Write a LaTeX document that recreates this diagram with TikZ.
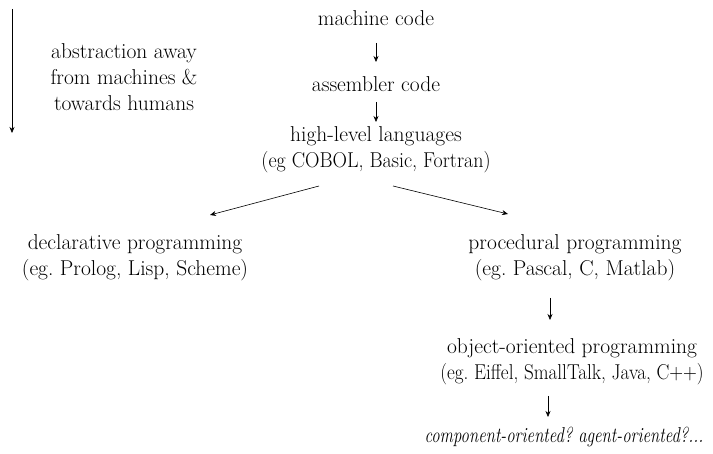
\documentclass[tikz,border=0pt]{standalone}
\usetikzlibrary{arrows.meta}
\begin{document}
\frenchspacing
\begin{tikzpicture}[x=1pt,y=-1pt,
  txt/.style={align=center,inner sep=0pt,font=\fontsize{21.5}{26}\selectfont},
  link/.style={-{Stealth[length=6pt,width=5pt]},line width=0.6pt}]
\useasboundingbox (0,0) rectangle (713,454);

% side note on the direction of abstraction
\coordinate (top) at (12,9);
\coordinate (bot) at (12,133);
\draw[link] (top) -- (bot);
\node[txt] (note) at (124,77) {abstraction away\\from machines \&\\towards humans};

% the lineage of programming paradigms
\node[txt] (mc) at (376,18) {machine code};
\node[txt] (ac) at (376,84) {assembler code};
\node[txt] (hl) at (376,150) {high-level languages\\\scalebox{0.93}[1]{(eg COBOL, Basic, Fortran)}};
\node[txt] (dp) at (135,258) {declarative programming\\(eg. Prolog, Lisp, Scheme)};
\node[txt] (pp) at (575,258) {procedural programming\\(eg. Pascal, C, Matlab)};
\node[txt] (oo) at (572,362) {object-oriented programming\\\scalebox{0.89}[1]{(eg. Eiffel, SmallTalk, Java, C++)}};
\node[txt] (fu) at (564,437) {\scalebox{0.78}[1]{\itshape component-oriented? agent-oriented?...}};

\draw[link] ([yshift=-25pt]mc.center) -- ([yshift=22pt]ac.center);
\draw[link] ([yshift=-18pt]ac.center) -- ([yshift=28pt]hl.center);
\draw[link] ([xshift=-57pt,yshift=-36pt]hl.center) -- ([xshift=75pt,yshift=43pt]dp.center);
\draw[link] ([xshift=17pt,yshift=-36pt]hl.center) -- ([xshift=-67pt,yshift=44pt]pp.center);
\draw[link] ([xshift=-25pt,yshift=-40pt]pp.center) -- ([xshift=-22pt,yshift=42pt]oo.center);
\draw[link] ([xshift=-24pt,yshift=-34pt]oo.center) -- ([xshift=-16pt,yshift=20pt]fu.center);
\end{tikzpicture}
\end{document}
